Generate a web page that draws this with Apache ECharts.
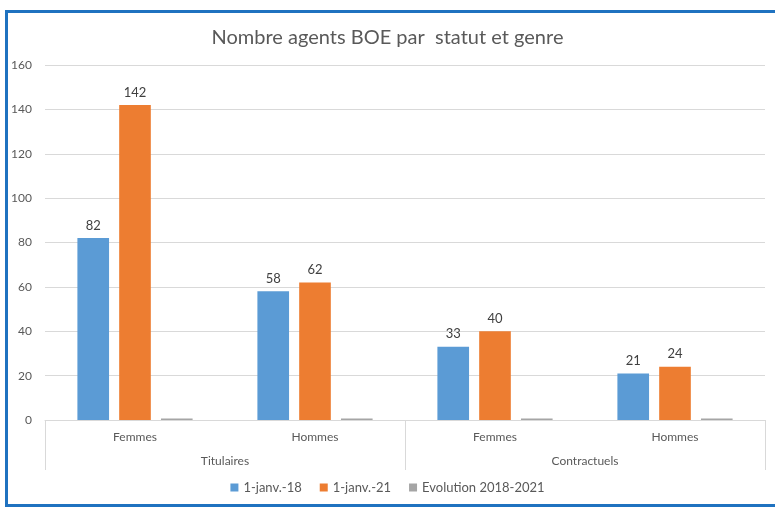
<!DOCTYPE html>
<html>
<head>
<meta charset="utf-8">
<script src="https://cdn.jsdelivr.net/npm/echarts@6/dist/echarts.min.js"></script>
<style>
  html, body { margin: 0; padding: 0; background: #fff; }
  #chart { width: 775px; height: 507px; }
  #frame { position: absolute; left: 5px; top: 10px; width: 790px; height: 491px;
           border: 3px solid #1F72C0; pointer-events: none; }
</style>
</head>
<body>
<div id="chart"></div>
<div id="frame"></div>
<script>
var genres = ['Femmes', 'Hommes', 'Femmes', 'Hommes'];
var statuts = ['Titulaires', 'Contractuels'];
var janv18 = [82, 58, 33, 21];
var janv21 = [142, 62, 40, 24];
var evolution = [0.73, 0.07, 0.21, 0.14];
var yTicks = [0, 20, 40, 60, 80, 100, 120, 140, 160];

var chart = echarts.init(document.getElementById('chart'));
var txt = '#595959';
var font = 'Lato, "Open Sans", sans-serif';

//etiquettes au dessus des barres
var valueLabel = { show: true, position: 'top', distance: 6, color: '#404040', fontSize: 13, fontFamily: font };

var option = {
    animation: false,
    textStyle: { fontFamily: font },
    title: {
        text: 'Nombre agents BOE par  statut et genre',
        left: 'center', top: 23,
        textStyle: { color: txt, fontSize: 20, fontWeight: 'normal', fontFamily: font }
    },
    legend: {
        bottom: 8, left: 'center',
        itemWidth: 8, itemHeight: 8, itemGap: 18,
        icon: 'rect',
        textStyle: { color: txt, fontSize: 13, fontFamily: font },
        data: ['1-janv.-18', '1-janv.-21', 'Evolution 2018-2021']
    },
    grid: { left: 45, right: 10, top: 65, bottom: 87 },
    xAxis: [{
        type: 'category',
        data: genres,
        axisLine: { lineStyle: { color: '#D9D9D9' } },
        axisTick: { show: false },
        axisLabel: { color: txt, fontSize: 12, margin: 11 }
    }, {
        type: 'category',
        position: 'bottom',
        data: statuts,
        axisLine: { show: false },
        axisTick: { show: true, length: 50, lineStyle: { color: '#D9D9D9' } },
        axisLabel: { color: txt, fontSize: 12, margin: 35 }
    }],
    yAxis: {
        type: 'value',
        min: yTicks[0], max: yTicks[yTicks.length - 1], interval: 20,
        axisLine: { show: false },
        axisTick: { show: false },
        axisLabel: { color: txt, fontSize: 12, margin: 13 },
        splitLine: { lineStyle: { color: '#D9D9D9' } }
    },
    series: [{
        name: '1-janv.-18', type: 'bar', data: janv18,
        itemStyle: { color: '#5B9BD5' },
        barCategoryGap: '36%', barGap: '32%',
        label: valueLabel
    }, {
        name: '1-janv.-21', type: 'bar', data: janv21,
        itemStyle: { color: '#ED7D31' },
        label: valueLabel
    }, {
        name: 'Evolution 2018-2021', type: 'bar', data: evolution,
        itemStyle: { color: '#A5A5A5' },
        barMinHeight: 1.5
    }]
};

chart.setOption(option);
</script>
</body>
</html>
